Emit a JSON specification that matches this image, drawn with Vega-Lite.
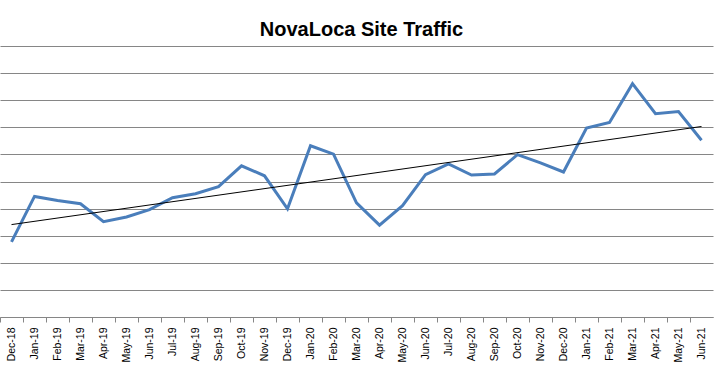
{
  "$schema": "https://vega.github.io/schema/vega-lite/v6.json",
  "width": 713,
  "height": 271,
  "autosize": "none",
  "padding": {"left": 0, "top": 46, "right": 10, "bottom": 52},
  "background": "white",
  "title": {
    "text": "NovaLoca Site Traffic",
    "font": "Liberation Sans",
    "fontSize": 20,
    "fontWeight": "bold",
    "color": "#000000",
    "anchor": "middle",
    "dx": 5,
    "offset": 6
  },
  "config": {
    "view": {"stroke": null},
    "axis": {"labelFont": "Liberation Sans", "titleFont": "Liberation Sans"}
  },
  "datasets": {
    "traffic": [
      {"month": "Dec-18", "visits": 27.7},
      {"month": "Jan-19", "visits": 44.5},
      {"month": "Feb-19", "visits": 43.0},
      {"month": "Mar-19", "visits": 41.8},
      {"month": "Apr-19", "visits": 35.2},
      {"month": "May-19", "visits": 36.9},
      {"month": "Jun-19", "visits": 39.6},
      {"month": "Jul-19", "visits": 44.0},
      {"month": "Aug-19", "visits": 45.5},
      {"month": "Sep-19", "visits": 48.1},
      {"month": "Oct-19", "visits": 55.8},
      {"month": "Nov-19", "visits": 52.1},
      {"month": "Dec-19", "visits": 39.9},
      {"month": "Jan-20", "visits": 63.2},
      {"month": "Feb-20", "visits": 60.1},
      {"month": "Mar-20", "visits": 42.1},
      {"month": "Apr-20", "visits": 33.9},
      {"month": "May-20", "visits": 41.1},
      {"month": "Jun-20", "visits": 52.5},
      {"month": "Jul-20", "visits": 56.5},
      {"month": "Aug-20", "visits": 52.4},
      {"month": "Sep-20", "visits": 52.8},
      {"month": "Oct-20", "visits": 59.9},
      {"month": "Nov-20", "visits": 56.9},
      {"month": "Dec-20", "visits": 53.5},
      {"month": "Jan-21", "visits": 69.7},
      {"month": "Feb-21", "visits": 71.8},
      {"month": "Mar-21", "visits": 86.1},
      {"month": "Apr-21", "visits": 75.0},
      {"month": "May-21", "visits": 75.8},
      {"month": "Jun-21", "visits": 65.2}
    ],
    "trend": [
      {"month": "Dec-18", "trend": 34.1},
      {"month": "Jun-21", "trend": 70.3}
    ]
  },
  "layer": [
    {
      "data": {"name": "traffic"},
      "mark": {"type": "line", "color": "#4A7EBB", "strokeWidth": 3, "strokeJoin": "miter"},
      "encoding": {
        "x": {
          "field": "month",
          "type": "ordinal",
          "sort": null,
          "bandPosition": 0.5,
          "scale": {"type": "band", "paddingInner": 0, "paddingOuter": 0},
          "axis": {
            "title": null,
            "labelAngle": -90,
            "labelFontSize": 10.5,
            "labelColor": "#000000",
            "labelPadding": 5,
            "tickSize": 5,
            "tickColor": "#868686",
            "domainColor": "#868686",
            "bandPosition": 0,
            "grid": false
          }
        },
        "y": {
          "field": "visits",
          "type": "quantitative",
          "scale": {"domain": [0, 100], "nice": false},
          "axis": {
            "title": null,
            "labels": false,
            "ticks": false,
            "domain": false,
            "grid": true,
            "gridColor": "#868686",
            "gridWidth": 1,
            "tickCount": 20,
            "values": [0, 10, 20, 30, 40, 50, 60, 70, 80, 90, 100]
          }
        }
      }
    },
    {
      "data": {"name": "trend"},
      "mark": {"type": "line", "color": "#000000", "strokeWidth": 1},
      "encoding": {
        "x": {"field": "month", "type": "ordinal", "sort": null, "bandPosition": 0.5},
        "y": {
          "field": "trend",
          "type": "quantitative",
          "axis": {
            "title": null,
            "labels": false,
            "ticks": false,
            "domain": false,
            "grid": true,
            "gridColor": "#868686",
            "gridWidth": 1,
            "tickCount": 20,
            "values": [0, 10, 20, 30, 40, 50, 60, 70, 80, 90, 100]
          }
        }
      }
    }
  ]
}
